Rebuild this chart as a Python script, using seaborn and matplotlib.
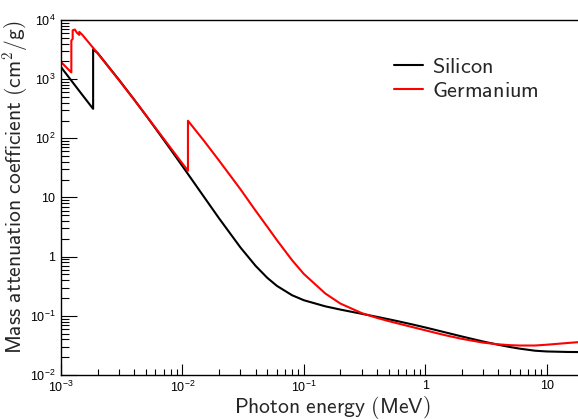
import numpy as np
import pandas as pd
import matplotlib
matplotlib.use("Agg")
import matplotlib.pyplot as plt
import seaborn as sns
from matplotlib.ticker import LogLocator, NullFormatter, FixedLocator
from matplotlib.lines import Line2D

# ---- data (photon energy in MeV, mass attenuation coefficient in cm^2/g) ----
si_energy = [1e-3, 1.5e-3, 1.839e-3, 1.839e-3, 2e-3, 3e-3, 4e-3, 5e-3, 6e-3, 8e-3,
             1e-2, 1.5e-2, 2e-2, 3e-2, 4e-2, 5e-2, 6e-2, 8e-2, 0.1, 0.15, 0.2, 0.3,
             0.4, 0.5, 0.6, 0.8, 1.0, 1.25, 1.5, 2.0, 3.0, 4.0, 5.0, 6.0, 8.0, 10.0,
             15.0, 20.0]
si_mu = [1600, 540, 315, 3192, 2777, 978.4, 452.9, 245.0, 147.0, 64.68,
         33.89, 10.34, 4.464, 1.436, 0.7012, 0.4385, 0.3207, 0.2228, 0.1835, 0.1448,
         0.1275, 0.1082, 0.09614, 0.08748, 0.08077, 0.07082, 0.06361, 0.05688,
         0.05183, 0.04480, 0.03678, 0.03240, 0.02967, 0.02788, 0.02574, 0.02500,
         0.02450, 0.02440]

ge_energy = [1e-3, 1.1e-3, 1.2167e-3, 1.2167e-3, 1.2478e-3, 1.2478e-3, 1.3e-3,
             1.3500e-3, 1.4143e-3, 1.4143e-3, 1.5e-3, 2e-3, 3e-3, 4e-3, 5e-3, 6e-3,
             8e-3, 1e-2, 1.1103e-2, 1.1103e-2, 1.5e-2, 2e-2, 3e-2, 4e-2, 5e-2, 6e-2,
             8e-2, 0.1, 0.15, 0.2, 0.3, 0.4, 0.5, 0.6, 0.8, 1.0, 1.25, 1.5, 2.0,
             3.0, 4.0, 5.0, 6.0, 8.0, 10.0, 15.0, 20.0]
ge_mu = [1950, 1600, 1300, 4500, 4800, 6700, 6900, 6100, 5600, 6300,
         5600, 2750, 961.3, 449.7, 247.2, 150.5, 68.79, 37.47, 28.32, 198.4,
         91.53, 42.22, 13.85, 6.0, 3.2, 1.9, 0.87, 0.51, 0.2391, 0.1611,
         0.1111, 0.09227, 0.08142, 0.07402, 0.06386, 0.05697, 0.05081, 0.04644,
         0.04086, 0.03524, 0.03300, 0.03190, 0.03150, 0.03150, 0.03250, 0.03480,
         0.03650]

materials = ["Silicon", "Germanium"]
colors = {"Silicon": "black", "Germanium": "#ff0000"}

y_ticks = [1e-2, 1e-1, 1, 10, 1e2, 1e3, 1e4]
y_ticklabels = [r"$10^{-2}$", r"$10^{-1}$", "1", "10", r"$10^{2}$", r"$10^{3}$", r"$10^{4}$"]
x_ticks = [1e-3, 1e-2, 1e-1, 1, 10]
x_ticklabels = [r"$10^{-3}$", r"$10^{-2}$", r"$10^{-1}$", "1", "10"]

df = pd.concat([
    pd.DataFrame({"energy": si_energy, "mu": si_mu, "material": "Silicon"}),
    pd.DataFrame({"energy": ge_energy, "mu": ge_mu, "material": "Germanium"}),
], ignore_index=True)

# ---- style ----
sns.set_theme(style="white")
plt.rcParams["font.family"] = ["Liberation Sans", "DejaVu Sans"]
plt.rcParams["mathtext.fontset"] = "custom"
plt.rcParams["mathtext.rm"] = "Liberation Sans"
plt.rcParams["mathtext.it"] = "Liberation Sans:italic"
plt.rcParams["mathtext.bf"] = "Liberation Sans:bold"

W, H = 578, 419
fig = plt.figure(figsize=(W / 100, H / 100), dpi=100)
ax_left, ax_right, ax_top, ax_bottom = 61, 578, 20, 375
ax = fig.add_axes([ax_left / W, (H - ax_bottom) / H, (ax_right - ax_left) / W,
                   (ax_bottom - ax_top) / H])

sns.lineplot(data=df, x="energy", y="mu", hue="material", hue_order=materials,
             palette=colors, estimator=None, sort=False, linewidth=1.5, ax=ax,
             legend=False)

ax.set_xscale("log")
ax.set_yscale("log")
ax.set_xlim(1e-3, 10 ** (1 + (578 - 546.7) / 121.5))
ax.set_ylim(1e-2, 1e4)

ax.xaxis.set_major_locator(FixedLocator(x_ticks))
ax.set_xticklabels(x_ticklabels)
ax.yaxis.set_major_locator(FixedLocator(y_ticks))
ax.set_yticklabels(y_ticklabels)
ax.xaxis.set_minor_locator(LogLocator(base=10, subs=np.arange(2, 10), numticks=20))
ax.yaxis.set_minor_locator(LogLocator(base=10, subs=np.arange(2, 10), numticks=20))
ax.xaxis.set_minor_formatter(NullFormatter())
ax.yaxis.set_minor_formatter(NullFormatter())

ax.tick_params(axis="both", which="both", direction="in", colors="black",
               labelsize=9, width=0.8, bottom=True, left=True, top=False, right=False)
ax.tick_params(axis="y", which="major", length=11.5, pad=4)
ax.tick_params(axis="y", which="minor", length=5.8)
ax.tick_params(axis="x", which="major", length=8, pad=3.5)
ax.tick_params(axis="x", which="minor", length=4.3)

for side in ["left", "bottom", "top"]:
    ax.spines[side].set_visible(True)
    ax.spines[side].set_color("black")
    ax.spines[side].set_linewidth(1.0)
ax.spines["right"].set_visible(False)
ax.set_xlabel("")
ax.set_ylabel("")

# axis titles (Computer Modern Sans look)
fig.text(15.5 / W, 1 - 187 / H, r"$\mathsf{Mass\ attenuation\ coefficient\ (cm^{2}/g)}$",
         rotation=90, ha="center", va="center", fontsize=15.5, math_fontfamily="cm")
fig.text(332 / W, 1 - 412.5 / H, r"$\mathsf{Photon\ energy\ (MeV)}$",
         ha="center", va="baseline", fontsize=15.6, math_fontfamily="cm")

# legend
handles = [Line2D([], [], color=colors[m], lw=1.5) for m in materials]
leg = ax.legend(handles, [r"$\mathsf{%s}$" % m for m in materials],
                loc="upper left", bbox_to_anchor=((394 - ax_left) / (ax_right - ax_left),
                                                  1 - (57 - ax_top) / (ax_bottom - ax_top)),
                frameon=False, fontsize=16, handlelength=1.3, handletextpad=0.4,
                labelspacing=0.12, borderaxespad=0, borderpad=0)
for t in leg.get_texts():
    t.set_math_fontfamily("cm")

fig.savefig("out.png", dpi=100, facecolor="white")
